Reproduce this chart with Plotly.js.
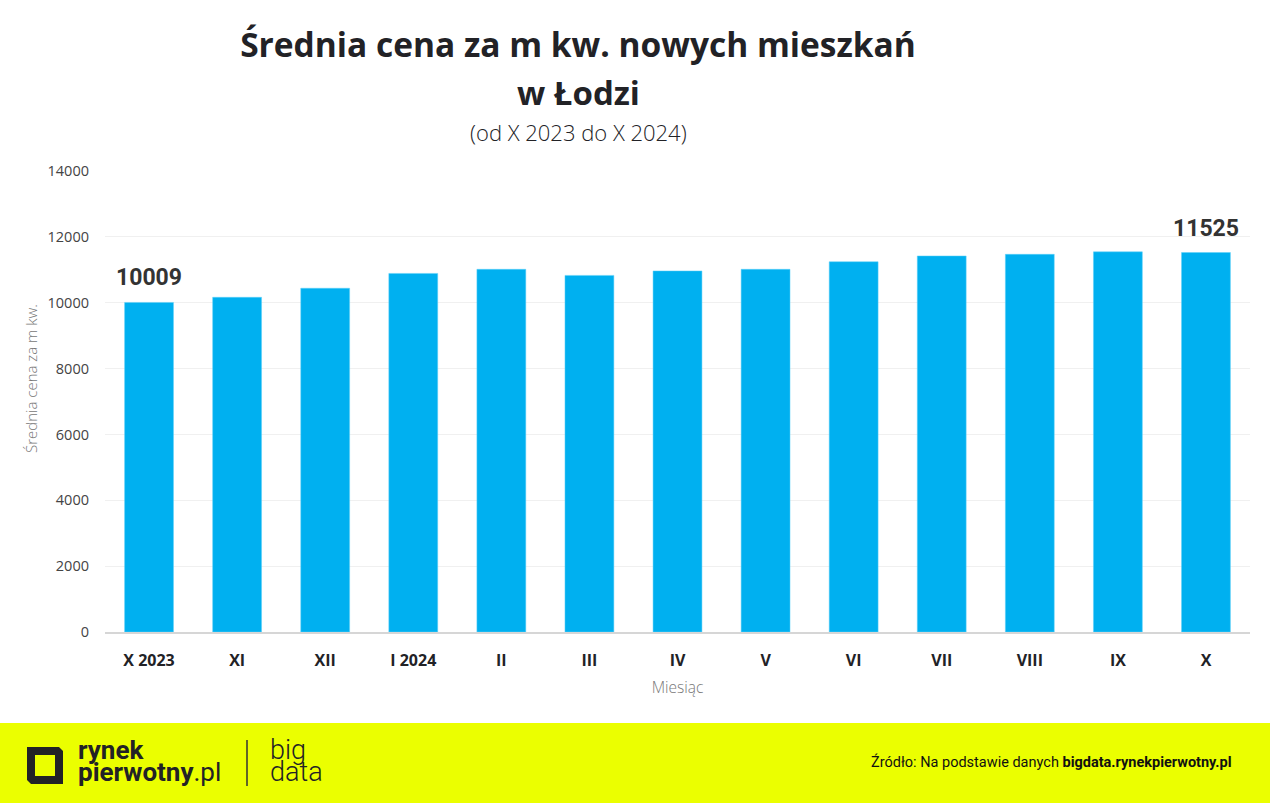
<!DOCTYPE html>
<html>
<head>
<meta charset="utf-8">
<script src="https://cdn.plot.ly/plotly-3.0.1.min.js"></script>
<style>
html,body{margin:0;padding:0;background:#fff;}
#chart{width:1270px;height:803px;}
</style>
</head>
<body>
<div id="chart"></div>
<script>
// ---- data ----
const months = ["X 2023","XI","XII","I 2024","II","III","IV","V","VI","VII","VIII","IX","X"];
const prices = [10009,10165,10440,10890,11015,10830,10965,11015,11245,11420,11470,11545,11525];
const yTicks = [0,2000,4000,6000,8000,10000,12000,14000];
const labelled = [0, 12]; // indices of bars with value labels

const titleText = "Średnia cena za m kw. nowych mieszkań";
const titleLine2 = "w Łodzi";
const subtitleText = "(od X 2023 do X 2024)";
const yTitle = "Średnia cena za m kw.";
const xTitle = "Miesiąc";
const sourceText = "Źródło: Na podstawie danych <b>bigdata.rynekpierwotny.pl</b>";

// ---- layout helpers (pixel -> paper) ----
const L = 105, R = 1250, T = 171, B = 632;
const px = x => (x - L) / (R - L);
const py = y => (B - y) / (B - T);

const FONT = "Open Sans, Roboto, sans-serif";
const DARK = "#222226";

const trace = {
  type: "bar",
  x: months,
  y: prices,
  marker: {color: "#00B0F0", line: {color: "#5fd0f8", width: 0.5}},
  hoverinfo: "x+y"
};

const annotations = [];
labelled.forEach(i => {
  annotations.push({
    x: months[i], y: prices[i], xref: "x", yref: "y",
    text: "<b>" + prices[i] + "</b>", showarrow: false,
    yanchor: "bottom", yshift: 9,
    font: {family: "Roboto, sans-serif", size: 23, color: "#333"}
  });
});

// title line 2 and subtitle
annotations.push({xref: "paper", yref: "paper", x: px(578), y: py(93), text: "<b>" + titleLine2 + "</b>",
  showarrow: false, xanchor: "center", yanchor: "middle", font: {family: FONT, size: 33, color: DARK}});
annotations.push({xref: "paper", yref: "paper", x: px(578), y: py(132), text: subtitleText,
  showarrow: false, xanchor: "center", yanchor: "middle", font: {family: FONT, size: 22, color: DARK, weight: 300}});

// y axis title
annotations.push({xref: "paper", yref: "paper", x: px(31), y: py(379), text: yTitle, textangle: -90,
  showarrow: false, xanchor: "center", yanchor: "middle", font: {family: FONT, size: 15, color: "#777", weight: 300}});

// footer texts
annotations.push({xref: "paper", yref: "paper", x: px(76), y: py(750), text: "<b>rynek</b>",
  showarrow: false, xanchor: "left", yanchor: "middle", font: {family: "Roboto, sans-serif", size: 26, color: DARK}});
annotations.push({xref: "paper", yref: "paper", x: px(76), y: py(772), text: "<b>pierwotny</b>.pl",
  showarrow: false, xanchor: "left", yanchor: "middle", font: {family: "Roboto, sans-serif", size: 26, color: DARK}});
annotations.push({xref: "paper", yref: "paper", x: px(268), y: py(750), text: "big",
  showarrow: false, xanchor: "left", yanchor: "middle", font: {family: "Roboto, sans-serif", size: 27, color: DARK, weight: 300}});
annotations.push({xref: "paper", yref: "paper", x: px(268), y: py(772), text: "data",
  showarrow: false, xanchor: "left", yanchor: "middle", font: {family: "Roboto, sans-serif", size: 27, color: DARK, weight: 300}});
annotations.push({xref: "paper", yref: "paper", x: px(1234), y: py(762), text: sourceText,
  showarrow: false, xanchor: "right", yanchor: "middle", font: {family: "Roboto, sans-serif", size: 14.5, color: "#111"}});

// logo path (pixel coords converted to paper)
function pathFrom(pts) {
  return pts.map(p => px(p[0]) + "," + py(p[1])).join(" L");
}
const outer = [[27,747],[59,747],[63,751],[63,784],[31,784],[27,780]];
const inner = [[35,755],[55,755],[55,776],[35,776]];
const logoPath = "M" + pathFrom(outer) + " Z M" + pathFrom(inner) + " Z";

const shapes = [
  {type: "rect", xref: "paper", yref: "paper", x0: px(0), x1: px(1270), y0: py(723), y1: py(803),
   fillcolor: "#EBFF00", line: {width: 0}, layer: "below"},
  {type: "path", xref: "paper", yref: "paper", path: logoPath, fillcolor: DARK, fillrule: "evenodd", line: {width: 0}},
  {type: "line", xref: "paper", yref: "paper", x0: px(247), x1: px(247), y0: py(740), y1: py(786),
   line: {color: "#333", width: 1.5}}
];

const layout = {
  width: 1270, height: 803,
  margin: {l: L, r: 1270 - R, t: T, b: 803 - B, pad: 0},
  paper_bgcolor: "#ffffff", plot_bgcolor: "#ffffff",
  showlegend: false,
  bargap: 0.445,
  title: {text: "<b>" + titleText + "</b>", xref: "paper", x: px(578), xanchor: "center",
          yref: "container", y: 1 - 45 / 803, yanchor: "middle",
          font: {family: FONT, size: 33.5, color: DARK}},
  xaxis: {
    type: "category",
    tickfont: {family: FONT, size: 16, color: DARK, weight: 700},
    showgrid: false, zeroline: false,
    showline: true, linecolor: "#d6d6d6", linewidth: 1.5,
    ticks: "", ticklabelstandoff: 13,
    title: {text: xTitle, font: {family: FONT, size: 15.5, color: "#777", weight: 300}, standoff: 12},
    fixedrange: true
  },
  yaxis: {
    range: [0, 14000],
    tickvals: yTicks,
    ticktext: yTicks.map(String),
    tickfont: {family: FONT, size: 14.5, color: "#444"},
    showgrid: true, gridcolor: "#f0f0f0", gridwidth: 1,
    zeroline: false, showline: false, ticks: "",
    ticklabelstandoff: 15,
    fixedrange: true
  },
  annotations: annotations,
  shapes: shapes
};

Plotly.newPlot("chart", [trace], layout, {displayModeBar: false, staticPlot: true});
</script>
</body>
</html>
